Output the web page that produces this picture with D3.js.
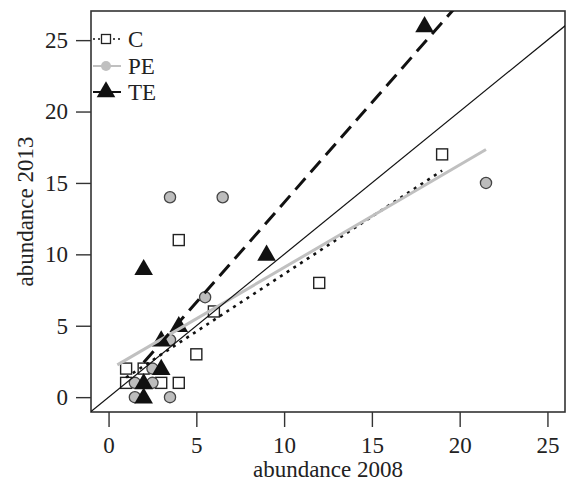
<!DOCTYPE html>
<html><head><meta charset="utf-8">
<script src="https://cdn.jsdelivr.net/npm/d3@7"></script>
<style>body{margin:0;background:#fff}svg{display:block}</style>
</head><body>
<svg id="chart" width="566" height="485"></svg>
<script>
// ---- data ----
const groups = ["C", "PE", "TE"];
const cX  = [19, 12, 4, 6, 5, 4, 1, 2, 1, 3];
const cY  = [17, 8, 11, 6, 3, 1, 2, 2, 1, 1];
const peX = [3.5, 6.5, 21.5, 5.5, 3.5, 2.5, 2.5, 1.5, 1.5, 3.5];
const peY = [14, 14, 15, 7, 4, 2, 1, 1, 0, 0];
const teX = [18, 9, 2, 4, 3, 3, 2, 2];
const teY = [26, 10, 9, 5, 4, 2, 1, 0];
// fitted lines: intercept, slope, x-range
const fitIntercept = [0.57, 1.90, -0.37];
const fitSlope     = [0.805, 0.718, 1.40];
const fitFrom      = [1, 0.5, 2];
const fitTo        = [19, 21.5, 21.5];
const xTicks = [0, 5, 10, 15, 20, 25];
const yTicks = [0, 5, 10, 15, 20, 25];
const xTitle = "abundance 2008";
const yTitle = "abundance 2013";

// ---- layout ----
const L = 91, R = 565, T = 11, B = 412;
const svg = d3.select("#chart");
const font = "'Liberation Serif', 'Times New Roman', serif";
const x = d3.scaleLinear().domain([-1, 26]).range([L, R]);
const y = d3.scaleLinear().domain([-1.04, 27.04]).range([B, T]);

svg.append("defs").append("clipPath").attr("id", "clip")
  .append("rect").attr("x", L).attr("y", T).attr("width", R - L).attr("height", B - T);

// axes
const xAxis = svg.append("g").attr("transform", `translate(0,${B})`)
  .call(d3.axisBottom(x).tickValues(xTicks).tickSize(15).tickPadding(10).tickFormat(d3.format("d")));
const yAxis = svg.append("g").attr("transform", `translate(${L},0)`)
  .call(d3.axisLeft(y).tickValues(yTicks).tickSize(15).tickPadding(8).tickFormat(d3.format("d")));
[xAxis, yAxis].forEach(a => {
  a.select(".domain").remove();
  a.selectAll(".tick line").attr("stroke", "#333").attr("stroke-width", 1.4);
  a.selectAll(".tick text").attr("fill", "#222").style("font-family", font).style("font-size", "23px");
});

// box
svg.append("rect").attr("x", L).attr("y", T).attr("width", R - L).attr("height", B - T)
  .attr("fill", "none").attr("stroke", "#333").attr("stroke-width", 1.6);

// titles
svg.append("text").attr("x", (L + R) / 2).attr("y", 477).attr("text-anchor", "middle")
  .style("font-family", font).style("font-size", "23px").attr("fill", "#222").text(xTitle);
svg.append("text").attr("transform", `translate(33,${(T + B) / 2}) rotate(-90)`).attr("text-anchor", "middle")
  .style("font-family", font).style("font-size", "23px").attr("fill", "#222").text(yTitle);

const plot = svg.append("g").attr("clip-path", "url(#clip)");

// marker drawers
const sqSize = 11, circR = 5.6, triSize = 150;
function drawSquares(g, xs, ys) {
  g.selectAll(null).data(xs.map((v, i) => [v, ys[i]])).enter().append("rect")
    .attr("x", d => x(d[0]) - sqSize / 2).attr("y", d => y(d[1]) - sqSize / 2)
    .attr("width", sqSize).attr("height", sqSize)
    .attr("fill", "#fff").attr("stroke", "#222").attr("stroke-width", 1.4);
}
function drawCircles(g, xs, ys) {
  g.selectAll(null).data(xs.map((v, i) => [v, ys[i]])).enter().append("circle")
    .attr("cx", d => x(d[0])).attr("cy", d => y(d[1])).attr("r", circR)
    .attr("fill", "#bdbdbd").attr("stroke", "#444").attr("stroke-width", 1.3);
}
const tri = d3.symbol().type(d3.symbolTriangle).size(triSize);
function drawTriangles(g, xs, ys) {
  g.selectAll(null).data(xs.map((v, i) => [v, ys[i]])).enter().append("path")
    .attr("d", tri).attr("transform", d => `translate(${x(d[0])},${y(d[1]) + 1})`)
    .attr("fill", "#111");
}
drawSquares(plot.append("g"), cX, cY);
drawCircles(plot.append("g"), peX, peY);
drawTriangles(plot.append("g"), teX, teY);

// fit lines
const lineStyles = [
  {stroke: "#111", width: 2.6, dash: "3,5", cap: "butt"},
  {stroke: "#c0c0c0", width: 3, dash: null, cap: "butt"},
  {stroke: "#111", width: 3, dash: "15,8", cap: "butt"}
];
groups.forEach((g, i) => {
  const st = lineStyles[i];
  plot.append("line")
    .attr("x1", x(fitFrom[i])).attr("y1", y(fitIntercept[i] + fitSlope[i] * fitFrom[i]))
    .attr("x2", x(fitTo[i])).attr("y2", y(fitIntercept[i] + fitSlope[i] * fitTo[i]))
    .attr("stroke", st.stroke).attr("stroke-width", st.width)
    .attr("stroke-dasharray", st.dash).attr("stroke-linecap", st.cap);
});
// 1:1 line
plot.append("line").attr("x1", x(-1)).attr("y1", y(-1)).attr("x2", x(30)).attr("y2", y(30))
  .attr("stroke", "#111").attr("stroke-width", 1.2);

// legend
const legY = [39, 66, 92];
const leg = svg.append("g");
groups.forEach((g, i) => {
  const st = lineStyles[i];
  const ly = legY[i];
  leg.append("line").attr("x1", 93).attr("x2", 121).attr("y1", ly).attr("y2", ly)
    .attr("stroke", st.stroke).attr("stroke-width", i === 0 ? 1.5 : 2)
    .attr("stroke-dasharray", i === 0 ? "2,3" : null);
  if (i === 0) {
    leg.append("rect").attr("x", 106 - 4.5).attr("y", ly - 4.5).attr("width", 9).attr("height", 9)
      .attr("fill", "#fff").attr("stroke", "#222").attr("stroke-width", 1.3);
  } else if (i === 1) {
    leg.append("circle").attr("cx", 106).attr("cy", ly).attr("r", 5).attr("fill", "#c0c0c0");
  } else {
    leg.append("path").attr("d", tri).attr("transform", `translate(106,${ly})`).attr("fill", "#111");
  }
  leg.append("text").attr("x", 128).attr("y", ly + 8).style("font-family", font).style("font-size", "23px")
    .attr("fill", "#222").text(g);
});
</script>
</body></html>
